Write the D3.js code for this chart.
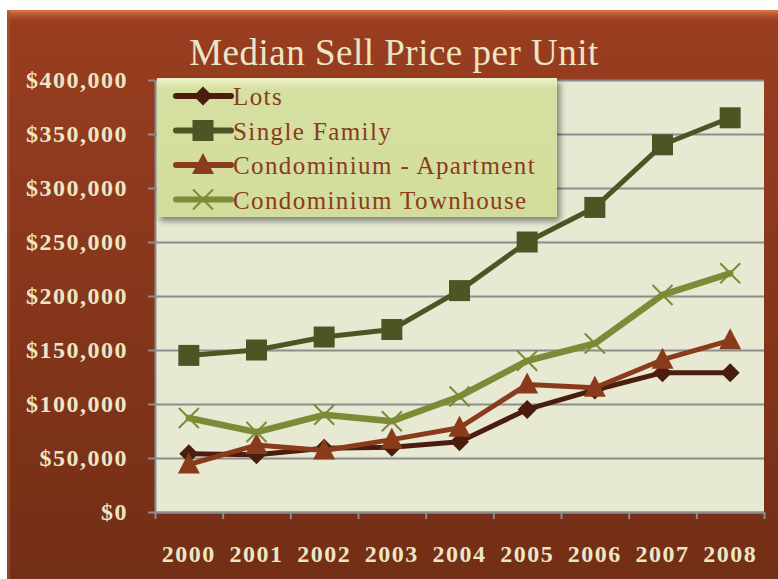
<!DOCTYPE html>
<html>
<head>
<meta charset="utf-8">
<script src="https://cdnjs.cloudflare.com/ajax/libs/d3/7.8.5/d3.min.js"></script>
<style>
  body { margin: 0; background: #fff; }
  text { font-family: "Liberation Serif", "DejaVu Serif", serif; }
</style>
</head>
<body>
<div id="chart"></div>
<script>
// Chart data
const years = ["2000", "2001", "2002", "2003", "2004", "2005", "2006", "2007", "2008"];
const lots = [54000, 53000, 59000, 60000, 65000, 95000, 113000, 129000, 129000];
const singleFamily = [145000, 150000, 162000, 169000, 205000, 250000, 282000, 340000, 365000];
const condoApartment = [44000, 62000, 57000, 67000, 78000, 118000, 115000, 141000, 159000];
const condoTownhouse = [87000, 74000, 90000, 84000, 107000, 140000, 156000, 201000, 221000];
const yTicks = [0, 50000, 100000, 150000, 200000, 250000, 300000, 350000, 400000];

const series = [
    { name: "Lots", values: lots, color: "#4a1d0e", width: 5, marker: "diamond" },
    { name: "Single Family", values: singleFamily, color: "#4e5524", width: 5, marker: "square" },
    { name: "Condominium - Apartment", values: condoApartment, color: "#8a3b1b", width: 5, marker: "triangle" },
    { name: "Condominium Townhouse", values: condoTownhouse, color: "#7d8a37", width: 6.5, marker: "cross" }
];

const width = 778;
const height = 579;
const margin = { top: 80, right: 14, bottom: 67, left: 155 };

const svg = d3.select("#chart").append("svg")
    .attr("width", width)
    .attr("height", height);

const defs = svg.append("defs");

const bgGrad = defs.append("linearGradient").attr("id", "bg-grad")
    .attr("x1", 0).attr("y1", 0).attr("x2", 0).attr("y2", 1);
bgGrad.append("stop").attr("offset", "0%").attr("stop-color", "#9a3e20");
bgGrad.append("stop").attr("offset", "100%").attr("stop-color", "#722e16");

const bevelGrad = defs.append("linearGradient").attr("id", "bevel-grad")
    .attr("x1", 0).attr("y1", 0).attr("x2", 0).attr("y2", 1);
bevelGrad.append("stop").attr("offset", "0%").attr("stop-color", "#e07a46");
bevelGrad.append("stop").attr("offset", "100%").attr("stop-color", "#9a3e20").attr("stop-opacity", 0);

const legGrad = defs.append("linearGradient").attr("id", "leg-grad")
    .attr("x1", 0).attr("y1", 0).attr("x2", 0).attr("y2", 1);
legGrad.append("stop").attr("offset", "0%").attr("stop-color", "#eef1c9");
legGrad.append("stop").attr("offset", "8%").attr("stop-color", "#d6e0a1");
legGrad.append("stop").attr("offset", "100%").attr("stop-color", "#d2dc9b");

const shadow = defs.append("filter").attr("id", "shadow")
    .attr("x", "-10%").attr("y", "-10%").attr("width", "130%").attr("height", "140%");
shadow.append("feDropShadow")
    .attr("dx", 3).attr("dy", 4).attr("stdDeviation", 3)
    .attr("flood-color", "#000").attr("flood-opacity", 0.45);

// Outer frame
svg.append("rect")
    .attr("x", 7).attr("y", 10)
    .attr("width", width).attr("height", height)
    .attr("fill", "url(#bg-grad)");
svg.append("rect")
    .attr("x", 7).attr("y", 10)
    .attr("width", width).attr("height", 14)
    .attr("fill", "url(#bevel-grad)");
svg.append("rect")
    .attr("x", 7).attr("y", 10)
    .attr("width", 3).attr("height", height)
    .attr("fill", "#b4532c").attr("opacity", 0.6);

// Title
svg.append("text")
    .attr("x", 394)
    .attr("y", 65)
    .attr("text-anchor", "middle")
    .attr("fill", "#ede6c6")
    .style("font-size", "37px")
    .style("letter-spacing", "0.5px")
    .text("Median Sell Price per Unit");

// Scales
const x = d3.scaleBand()
    .domain(years)
    .range([margin.left, width - margin.right]);

const xTick = d3.scaleLinear()
    .domain([0, years.length])
    .range([margin.left, width - margin.right]);

const y = d3.scaleLinear()
    .domain([0, 400000])
    .range([height - margin.bottom, margin.top]);

// Plot area
svg.append("rect")
    .attr("x", margin.left)
    .attr("y", margin.top)
    .attr("width", width - margin.right - margin.left)
    .attr("height", height - margin.bottom - margin.top)
    .attr("fill", "#e7e9d3");

// Gridlines
svg.append("g")
    .attr("class", "grid")
    .attr("transform", `translate(${margin.left}, 0)`)
    .call(d3.axisLeft(y).tickValues(yTicks).tickFormat("")
        .tickSize(-(width - margin.right - margin.left)))
    .call(g => g.select(".domain").remove())
    .call(g => g.selectAll("line").attr("stroke", "#8d8d8d").attr("stroke-width", 2));

// Y axis
svg.append("g")
    .attr("class", "y-axis")
    .attr("transform", `translate(${margin.left}, 0)`)
    .call(d3.axisLeft(y).tickValues(yTicks).tickFormat(d3.format("$,")).tickSize(7).tickSizeOuter(0).tickPadding(20))
    .call(g => g.select(".domain").attr("stroke", "#8d8d8d").attr("stroke-width", 2))
    .call(g => g.selectAll("line").attr("stroke", "#8d8d8d").attr("stroke-width", 2))
    .call(g => g.selectAll("text")
        .attr("fill", "#ede6c6")
        .style("font-size", "24px")
        .style("font-weight", "bold")
        .style("letter-spacing", "1.5px")
        .style("font-family", "'Liberation Serif', serif"));

// X axis tick marks at category boundaries
svg.append("g")
    .attr("class", "x-axis")
    .attr("transform", `translate(0, ${height - margin.bottom})`)
    .call(d3.axisBottom(xTick).tickValues(d3.range(years.length + 1)).tickFormat("").tickSize(7).tickSizeOuter(0))
    .call(g => g.select(".domain").attr("stroke", "#8d8d8d").attr("stroke-width", 2))
    .call(g => g.selectAll("line").attr("stroke", "#8d8d8d").attr("stroke-width", 2));

// X labels
svg.append("g")
    .attr("class", "x-labels")
    .attr("transform", `translate(0, ${height - margin.bottom})`)
    .call(d3.axisBottom(x).tickSize(0).tickPadding(33))
    .call(g => g.select(".domain").remove())
    .call(g => g.selectAll("text")
        .attr("fill", "#ede6c6")
        .style("font-size", "24px")
        .style("font-weight", "bold")
        .style("letter-spacing", "1.5px")
        .style("font-family", "'Liberation Serif', serif"));

// Marker shapes
const markerPath = {
    diamond: "M0,-9.5L9.5,0L0,9.5L-9.5,0Z",
    square: "M-10.5,-10.5H10.5V10.5H-10.5Z",
    triangle: "M0,-12L11,9L-11,9Z",
    cross: "M-10,-10L10,10M-10,10L10,-10"
};

function drawMarker(g, s) {
    const p = g.append("path").attr("d", markerPath[s.marker]);
    if (s.marker === "cross") {
        p.attr("fill", "none").attr("stroke", s.color).attr("stroke-width", 2);
    } else {
        p.attr("fill", s.color);
    }
}

// Lines and markers
const line = d3.line()
    .x((d, i) => x(years[i]) + x.bandwidth() / 2)
    .y(d => y(d));

const seriesGroup = svg.append("g").attr("class", "series");
series.forEach(s => {
    const g = seriesGroup.append("g");
    g.append("path")
        .datum(s.values)
        .attr("fill", "none")
        .attr("stroke", s.color)
        .attr("stroke-width", s.width)
        .attr("stroke-linejoin", "round")
        .attr("stroke-linecap", "round")
        .attr("d", line);
    s.values.forEach((v, i) => {
        const m = g.append("g")
            .attr("transform", `translate(${x(years[i]) + x.bandwidth() / 2}, ${y(v)})`);
        drawMarker(m, s);
    });
});

// Legend
const legend = svg.append("g")
    .attr("class", "legend")
    .attr("transform", "translate(157, 78)");

legend.append("rect")
    .attr("width", 400)
    .attr("height", 139)
    .attr("fill", "url(#leg-grad)")
    .attr("filter", "url(#shadow)");

series.forEach((s, i) => {
    const g = legend.append("g").attr("transform", `translate(0, ${18 + i * 34.5})`);
    g.append("line")
        .attr("x1", 19).attr("x2", 74)
        .attr("stroke", s.color)
        .attr("stroke-width", 6)
        .attr("stroke-linecap", "round");
    const m = g.append("g").attr("transform", "translate(46, 0)");
    drawMarker(m, s);
    g.append("text")
        .attr("x", 76)
        .attr("y", 9)
        .attr("fill", "#8a3b1b")
        .style("font-size", "25px")
        .style("letter-spacing", "1.4px")
        .text(s.name);
});
</script>
</body>
</html>
